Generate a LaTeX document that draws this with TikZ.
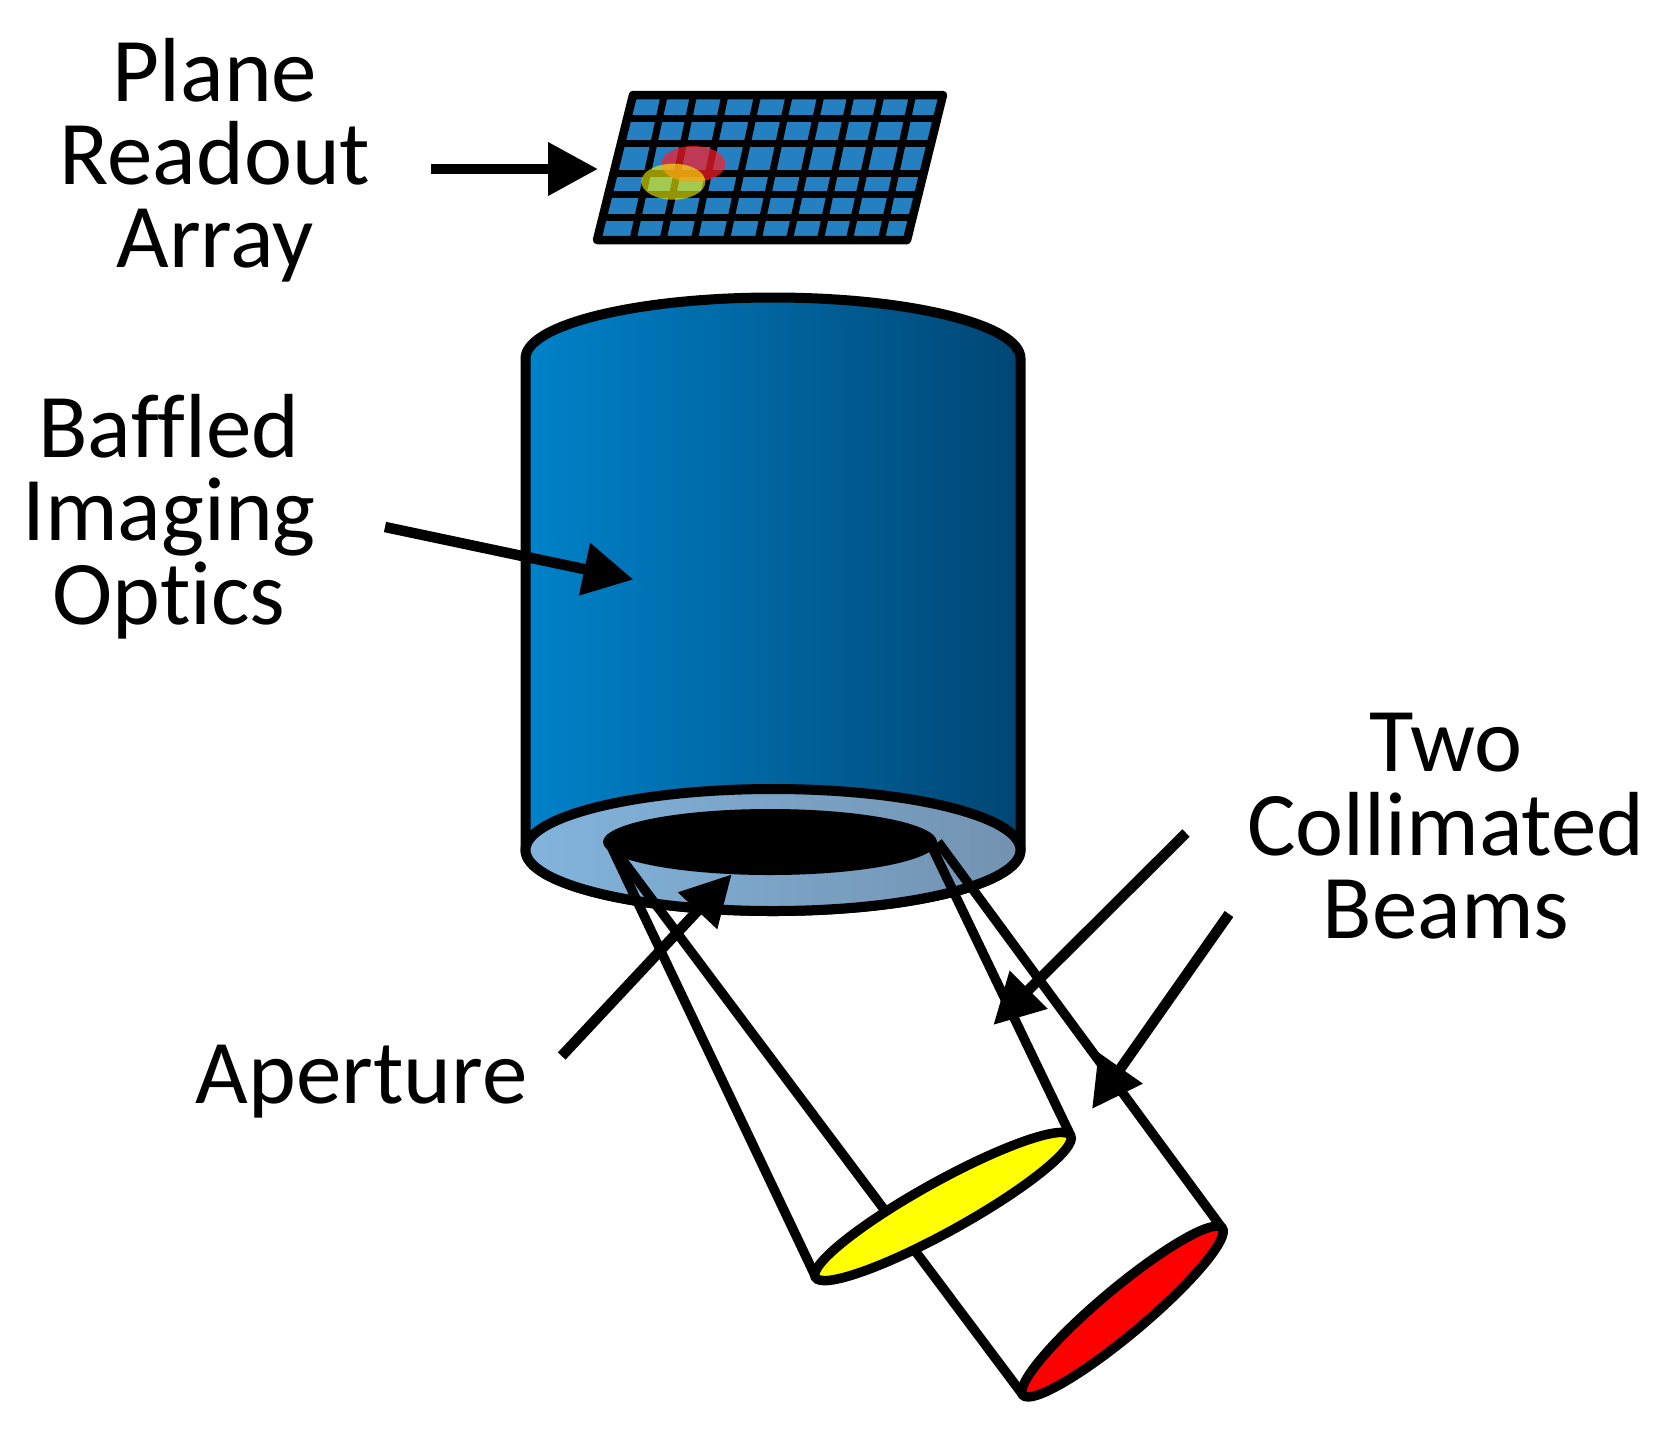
\documentclass[tikz,border=0pt]{standalone}
\usepackage{fontspec}
\setmainfont{Carlito}[Ligatures=NoCommon]
\usetikzlibrary{arrows.meta}
\definecolor{cellblue}{RGB}{37,128,193}
\definecolor{bodyL}{RGB}{0,130,202}
\definecolor{bodyR}{RGB}{0,70,115}
\definecolor{ringL}{RGB}{130,180,221}
\definecolor{ringR}{RGB}{115,146,176}
\definecolor{pureyellow}{RGB}{255,255,0}
\definecolor{purered}{RGB}{255,0,0}
\definecolor{spotred}{RGB}{255,28,41}
\tikzset{
  lbl/.style={inner sep=0pt,anchor=base,align=center,text=black,font=\fontsize{91}{83.3}\selectfont},
  pointer/.style={line width=10.5pt,line cap=butt,draw=black,-{Triangle[length=50pt,width=51pt]}},
  beam/.style={line width=9.5pt,draw=black,line cap=butt},
  rim/.style={line width=10pt,draw=black,line join=round},
  face/.style={line width=9.5pt,draw=black},
  gridrule/.style={line width=7pt,draw=black},
  gridframe/.style={line width=8.5pt,draw=black,line join=round,fill=cellblue},
}
\begin{document}
\begin{tikzpicture}[x=1pt,y=-1pt]
\useasboundingbox (0,0) rectangle (1670,1428);
\fill[white] (0,0) rectangle (1670,1428);

% readout array
\draw[gridframe] (633,95) -- (943,95) -- (907,240) -- (597,240) -- cycle;
\foreach \a/\b in {664.3/633,693.7/663,725/694.3,757.7/726.3,789.3/758,821/789.3,851/820.3,881/849.3,912.7/881.3}
  \draw[gridrule] (\a,95) -- (\b,240);
\foreach \y in {118.3,143.3,173.3,194.3,217.3}
  \draw[gridrule] ({633-0.2483*(\y-95)},\y) -- ({943-0.2483*(\y-95)},\y);
\fill[spotred,fill opacity=0.7] (693.3,164) ellipse [x radius=32pt,y radius=18pt];
\fill[pureyellow,fill opacity=0.58] (673.3,181.7) ellipse [x radius=32pt,y radius=18pt];

% optics cylinder
\path[rim,left color=bodyL,right color=bodyR]
  (525.5,358.5) arc [start angle=180,end angle=0,x radius=247.5pt,y radius=61pt]
  -- (1020.5,850) arc [start angle=0,end angle=-180,x radius=247.5pt,y radius=61pt] -- cycle;
\path[rim,left color=ringL,right color=ringR] (773,850) ellipse [x radius=247.5pt,y radius=61pt];
\fill[black] (770,842) ellipse [x radius=167pt,y radius=33pt];

% named points
\coordinate (apL) at (609,842);
\coordinate (apR1) at (932,847);
\coordinate (apR2) at (938,842);
\coordinate (yL) at (815.7,1277);
\coordinate (yR) at (1070.7,1135.7);
\coordinate (rL) at (1023,1395);
\coordinate (rR) at (1222,1228);

% beams
\draw[beam] (apL) -- (rL);
\draw[beam] (apR2) -- (rR);
\draw[beam] (apL) -- (yL);
\draw[beam] (apR1) -- (yR);
\draw[face,fill=purered,shift={(1122.5,1311.5)},rotate=40] (0,0) ellipse [x radius=130pt,y radius=23pt];
\draw[face,fill=pureyellow,shift={(943,1206.5)},rotate=29] (0,0) ellipse [x radius=146pt,y radius=25pt];

% labels
\node[lbl] (plane) at (215,267.7) {Plane\\Readout\\Array};
\node[lbl] (baffled) at (169,624) {Baffled\\Imaging\\Optics};
\node[lbl] (aperture) at (361.5,1103) {Aperture};
\node[lbl] (two) at (1446,938.3) {Two\\Collimated\\Beams};

% pointers
\coordinate (t1) at (431,169);   \coordinate (h1) at (598,169);
\coordinate (t2) at (385,527);   \coordinate (h2) at (633.4,579.5);
\coordinate (t3) at (561.7,1056); \coordinate (h3) at (731.7,874.3);
\coordinate (t4) at (1186,833);  \coordinate (h4) at (993.3,1025);
\coordinate (t5) at (1229,914);  \coordinate (h5) at (1092,1109);
\draw[pointer] (t1) -- (h1);
\draw[pointer] (t2) -- (h2);
\draw[pointer] (t3) -- (h3);
\draw[pointer] (t4) -- (h4);
\draw[pointer] (t5) -- (h5);
\end{tikzpicture}
\end{document}
